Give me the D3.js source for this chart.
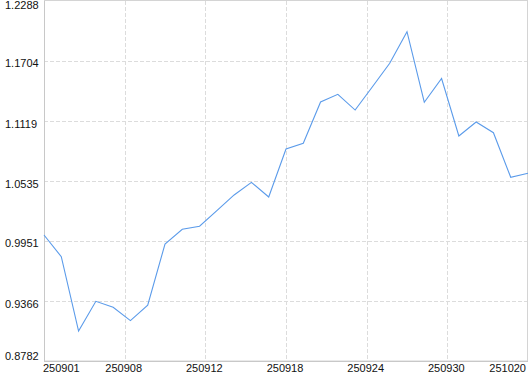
<!DOCTYPE html>
<html>
<head>
<meta charset="utf-8">
<script src="https://cdn.jsdelivr.net/npm/d3@7"></script>
<style>
body { margin: 0; background: #fff; }
text { font-family: "Liberation Sans", Arial, sans-serif; font-size: 11px; fill: #111; }
</style>
</head>
<body>
<div id="chart"></div>
<script>
// series values (29 points)
var values = [1.0009, 0.9798, 0.9074, 0.9363, 0.9305, 0.9175, 0.9325, 0.9921, 1.0065, 1.0094,
	1.0246, 1.0399, 1.0522, 1.0379, 1.0847, 1.0902, 1.1304, 1.1379, 1.1226, 1.1453,
	1.1681, 1.1989, 1.1302, 1.1533, 1.0973, 1.1110, 1.1005, 1.0571, 1.0610];
var xTickLabels = ["250901", "250908", "250912", "250918", "250924", "250930", "251020"];
var yTicks = [0.8782, 0.9366, 0.9951, 1.0535, 1.1119, 1.1704, 1.2288];

// note: "top" is taken by window.top, so plot edges get a prefix
var width = 530,
	height = 374,
	pLeft = 44, pRight = 528, pTop = 1, pBottom = 361;

var x = d3.scaleLinear()
	.domain([0, values.length - 1])
	.range([pLeft, pRight]);

var y = d3.scaleLinear()
	.domain([yTicks[0], yTicks[yTicks.length - 1]])
	.range([pBottom, pTop]);

// label positions spread evenly over the index range
var xTickPos = d3.scaleLinear()
	.domain([0, xTickLabels.length - 1])
	.range([0, values.length - 1]);

var svg = d3.select("#chart").append("svg")
	.attr("width", width)
	.attr("height", height);

// grid
svg.append("g").selectAll("line")
	.data(yTicks.slice(1, -1))
	.enter().append("line")
	.attr("x1", pLeft).attr("x2", pRight)
	.attr("y1", function(d) { return Math.round(y(d)) + 0.5; })
	.attr("y2", function(d) { return Math.round(y(d)) + 0.5; })
	.attr("stroke", "#dcdcdc")
	.attr("stroke-dasharray", "4,2");

svg.append("g").selectAll("line")
	.data(xTickLabels.slice(1, -1))
	.enter().append("line")
	.attr("x1", function(d, i) { return Math.round(x(xTickPos(i + 1))) + 0.5; })
	.attr("x2", function(d, i) { return Math.round(x(xTickPos(i + 1))) + 0.5; })
	.attr("y1", pTop).attr("y2", pBottom)
	.attr("stroke", "#dcdcdc")
	.attr("stroke-dasharray", "4,2");

// frame
svg.append("rect")
	.attr("x", pLeft + 0.5).attr("y", pTop - 0.5)
	.attr("width", pRight - pLeft - 1).attr("height", pBottom - pTop + 0.5)
	.attr("fill", "none")
	.attr("stroke", "#d4d4d4");
svg.append("line")
	.attr("x1", pLeft + 0.5).attr("x2", pLeft + 0.5)
	.attr("y1", pTop).attr("y2", pBottom + 1)
	.attr("stroke", "#c8c8c8");
svg.append("line")
	.attr("x1", pLeft).attr("x2", pRight)
	.attr("y1", pBottom + 0.5).attr("y2", pBottom + 0.5)
	.attr("stroke", "#c8c8c8");

// y labels (inside left margin)
svg.append("g").selectAll("text")
	.data(yTicks)
	.enter().append("text")
	.attr("x", 5)
	.attr("y", function(d, i) {
		if (i == 0) return y(d) - 1.5;
		if (i == yTicks.length - 1) return y(d) + 8;
		return y(d) + 6.5;
	})
	.text(function(d) { return d3.format(".4f")(d); });

// x labels
svg.append("g").selectAll("text")
	.data(xTickLabels)
	.enter().append("text")
	.attr("x", function(d, i) {
		if (i == 0) return pLeft - 1;
		if (i == xTickLabels.length - 1) return pRight - 2;
		return x(xTickPos(i)) - 1;
	})
	.attr("y", 372)
	.attr("text-anchor", function(d, i) {
		if (i == 0) return "start";
		if (i == xTickLabels.length - 1) return "end";
		return "middle";
	})
	.text(function(d) { return d; });

var line = d3.line()
	.x(function(d, i) { return x(i); })
	.y(function(d) { return y(d); });

svg.append("path")
	.datum(values)
	.attr("d", line)
	.attr("fill", "none")
	.attr("stroke", "#5b9bea")
	.attr("stroke-width", 1.1);
</script>
</body>
</html>
